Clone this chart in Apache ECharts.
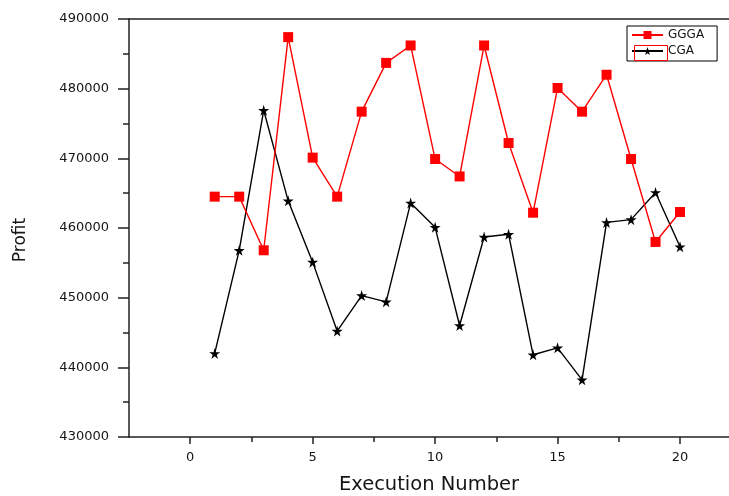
<!DOCTYPE html>
<html>
<head>
<meta charset="utf-8">
<script src="https://cdn.jsdelivr.net/npm/echarts@6/dist/echarts.min.js"></script>
<style>
  html, body { margin: 0; padding: 0; background: #fff; }
  #chart { width: 729px; height: 496px; }
</style>
</head>
<body>
<div id="chart"></div>
<script>
// Execution runs and profit per run for the two algorithms
const runs = [1, 2, 3, 4, 5, 6, 7, 8, 9, 10, 11, 12, 13, 14, 15, 16, 17, 18, 19, 20];
const ggga = [464500, 464500, 456800, 487400, 470100, 464500, 476700, 483700, 486200, 469900,
              467400, 486200, 472200, 462200, 480100, 476700, 482000, 469900, 458000, 462300];
const cga  = [442000, 456800, 476900, 463900, 455100, 445200, 450300, 449400, 463600, 460100,
              446000, 458700, 459100, 441800, 442800, 438200, 460800, 461200, 465100, 457300];

// Axis tick positions
const xMajorTicks = [0, 5, 10, 15, 20];
const xMinorTicks = [2.5, 7.5, 12.5, 17.5];
const yTicks = [430000, 440000, 450000, 460000, 470000, 480000, 490000];

const STAR = 'path://M50,0 L61,35 L98,35 L68,57 L79,91 L50,70 L21,91 L32,57 L2,35 L39,35 Z';
const FONT = 'DejaVu Sans';
const AXIS_COLOR = '#222';
const TEXT_COLOR = '#151515';

const pairs = (vals) => runs.map((r, i) => [r, vals[i]]);

const chart = echarts.init(document.getElementById('chart'), null, { renderer: 'canvas' });

chart.setOption({
  animation: false,
  backgroundColor: '#fff',
  grid: { left: 129, top: 19, right: 0, bottom: 59, containLabel: false, outerBoundsMode: 'none' },
  legend: {
    orient: 'vertical',
    left: 627,
    top: 26,
    padding: [3, 13, 4, 4],
    itemGap: 4,
    itemWidth: 31,
    itemHeight: 10,
    borderColor: '#000',
    borderWidth: 1,
    textStyle: { fontFamily: FONT, fontSize: 12, color: TEXT_COLOR },
    data: ['GGGA', 'CGA']
  },
  xAxis: [
    {
      type: 'value',
      position: 'bottom',
      min: -2.5,
      max: 22,
      name: 'Execution Number',
      nameLocation: 'middle',
      nameGap: 38,
      nameTextStyle: { fontFamily: FONT, fontSize: 19.5, color: TEXT_COLOR },
      axisLine: { show: true, onZero: false, lineStyle: { color: AXIS_COLOR, width: 1.5 } },
      axisTick: { show: true, inside: false, length: 7, customValues: xMajorTicks,
                  lineStyle: { color: AXIS_COLOR, width: 1.5 } },
      axisLabel: { show: true, margin: 14, customValues: xMajorTicks,
                   fontFamily: FONT, fontSize: 13, color: TEXT_COLOR },
      splitLine: { show: false }
    },
    {
      type: 'value',
      position: 'bottom',
      min: -2.5,
      max: 22,
      axisLine: { show: false, onZero: false },
      axisTick: { show: true, inside: false, length: 5, customValues: xMinorTicks,
                  lineStyle: { color: AXIS_COLOR, width: 1.5 } },
      axisLabel: { show: false },
      splitLine: { show: false }
    },
    {
      type: 'value',
      position: 'top',
      min: -2.5,
      max: 22,
      axisLine: { show: true, onZero: false, lineStyle: { color: AXIS_COLOR, width: 1.5 } },
      axisTick: { show: false },
      axisLabel: { show: false },
      splitLine: { show: false }
    }
  ],
  yAxis: {
    type: 'value',
    min: yTicks[0],
    max: yTicks[yTicks.length - 1],
    interval: 10000,
    name: 'Profit',
    nameLocation: 'middle',
    nameGap: 100,
    nameTextStyle: { fontFamily: FONT, fontSize: 17, color: TEXT_COLOR, padding: [0, 24, 0, 0] },
    axisLine: { show: true, onZero: false, lineStyle: { color: AXIS_COLOR, width: 1.5 } },
    axisTick: { show: true, inside: false, length: 11, lineStyle: { color: AXIS_COLOR, width: 1.5 } },
    minorTick: { show: true, splitNumber: 2, length: 6, lineStyle: { color: AXIS_COLOR, width: 1.5 } },
    axisLabel: { margin: 20, fontFamily: FONT, fontSize: 13, color: TEXT_COLOR,
                 formatter: (v) => String(v) },
    splitLine: { show: false },
    minorSplitLine: { show: false }
  },
  series: [
    {
      name: 'GGGA',
      type: 'line',
      xAxisIndex: 0,
      data: pairs(ggga),
      symbol: 'rect',
      symbolSize: 10,
      lineStyle: { color: '#ff0000', width: 1.4 },
      itemStyle: { color: '#ff0000' },
      z: 3
    },
    {
      name: 'CGA',
      type: 'line',
      xAxisIndex: 0,
      data: pairs(cga),
      symbol: STAR,
      symbolSize: 11,
      lineStyle: { color: '#000', width: 1.4 },
      itemStyle: { color: '#000' },
      z: 2
    }
  ],
  graphic: [
    {
      type: 'rect',
      left: 632,
      top: 43,
      shape: { width: 33, height: 15 },
      style: { fill: 'none', stroke: '#ff0000', lineWidth: 1 },
      z: 100
    }
  ]
});
</script>
</body>
</html>
